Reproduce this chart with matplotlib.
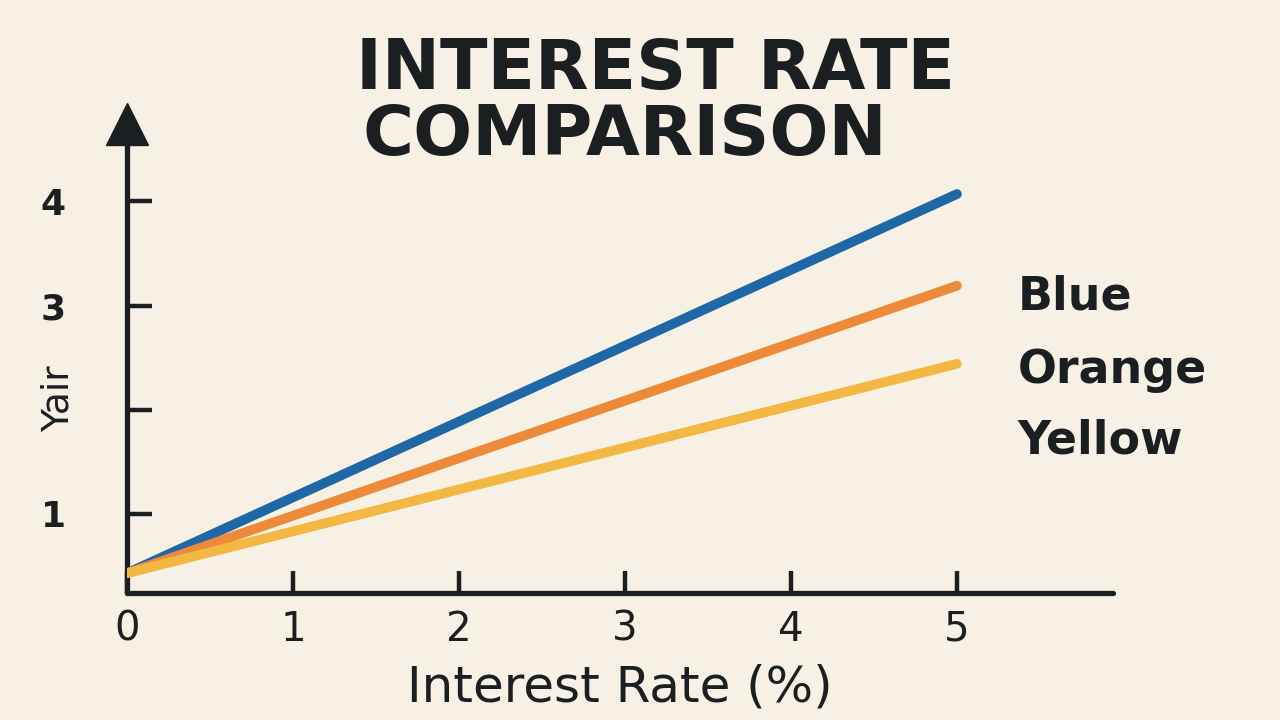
import matplotlib.pyplot as plt

# data
rates = [0, 5]
blue = [0.43, 4.07]
orange = [0.43, 3.19]
yellow = [0.43, 2.44]
series_names = ["Blue", "Orange", "Yellow"]
series_colors = ["#1f67a6", "#ec8a3a", "#f2b843"]
y_ticks = [1, 2, 3, 4]
y_tick_labels = ["1", "", "3", "4"]
x_ticks = [0, 1, 2, 3, 4, 5]

bg = "#f7f0e4"
ink = "#1b1f21"
font = "DejaVu Sans"

fig = plt.figure(figsize=(12.8, 7.2), dpi=100, facecolor=bg)
ax = fig.add_axes([0.0992, 0.1764, 0.7703, 0.651])
ax.set_facecolor(bg)

for vals, col in zip([blue, orange, yellow], series_colors):
    ax.plot(rates, vals, color=col, lw=7, solid_capstyle="round", zorder=3)

ax.set_xlim(0, 5.94)
ax.set_ylim(0.24, 4.74)

for s in ["top", "right"]:
    ax.spines[s].set_visible(False)
for s in ["left", "bottom"]:
    ax.spines[s].set_linewidth(3.8)
    ax.spines[s].set_color(ink)
    ax.spines[s].set_capstyle("round")

# arrow on top of the y axis
ax.plot(0, 1.0, marker="^", ms=30, color=ink, transform=ax.get_xaxis_transform(), clip_on=False)

ax.set_xticks(x_ticks)
ax.set_xticklabels([str(t) for t in x_ticks], fontfamily=font, fontsize=29, color=ink)
ax.set_yticks(y_ticks)
ax.set_yticklabels(y_tick_labels, fontfamily=font, fontsize=26, fontweight="bold", color=ink)
ax.tick_params(axis="x", direction="in", length=16, width=3.2, color=ink, pad=12)
ax.tick_params(axis="y", direction="in", length=18, width=3.2, color=ink, pad=44)

ax.set_xlabel("Interest Rate (%)", fontfamily=font, fontsize=36, color=ink, labelpad=10)
fig.text(0.046, 0.447, "Yair", rotation=90, ha="center", va="center",
         fontfamily=font, fontsize=27, color=ink)

fig.text(0.512, 0.903, "INTEREST RATE", ha="center", va="center",
         fontfamily=font, fontweight="bold", fontsize=50, color=ink)
fig.text(0.488, 0.812, "COMPARISON", ha="center", va="center",
         fontfamily=font, fontweight="bold", fontsize=50, color=ink)

for name, y in zip(series_names, [0.587, 0.486, 0.388]):
    fig.text(0.795, y, name, ha="left", va="center",
             fontfamily=font, fontweight="bold", fontsize=33, color=ink)

fig.savefig("out.png", dpi=100, facecolor=bg)
